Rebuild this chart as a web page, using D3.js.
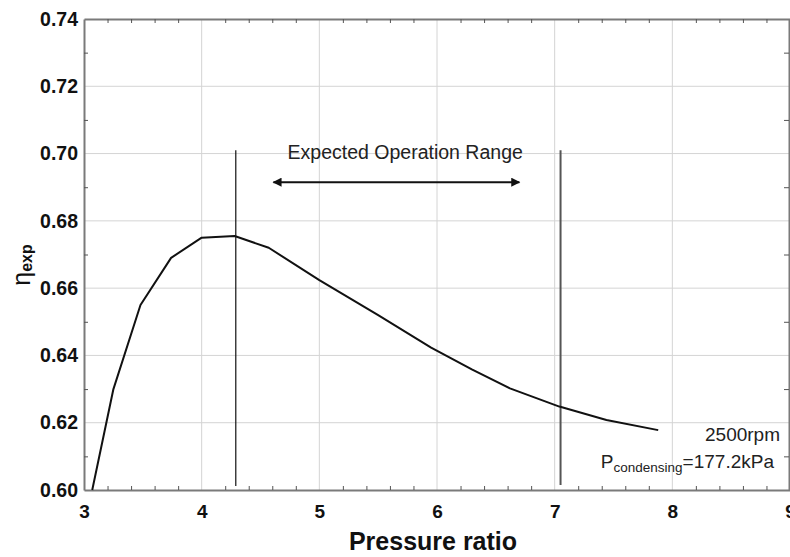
<!DOCTYPE html>
<html>
<head>
<meta charset="utf-8">
<script src="https://cdn.jsdelivr.net/npm/d3@7"></script>
<style>
  html, body { margin: 0; padding: 0; background: #fff; }
  svg { display: block; font-family: "Liberation Sans", Arial, sans-serif; }
</style>
</head>
<body>
<svg id="chart" width="790" height="557"></svg>
<script>
// ---- data ----
const pressureRatio = [3.07, 3.25, 3.48, 3.74, 4.0, 4.28, 4.57, 5.0, 5.5, 5.95, 6.3, 6.62, 7.04, 7.44, 7.88];
const efficiency    = [0.600, 0.630, 0.655, 0.669, 0.675, 0.6755, 0.672, 0.6624, 0.652, 0.6423, 0.6358, 0.6302, 0.6248, 0.6208, 0.6178];
const xTicks = [3, 4, 5, 6, 7, 8, 9];
const yTicks = [0.60, 0.62, 0.64, 0.66, 0.68, 0.70, 0.72, 0.74];
const rangeLines = [4.29, 7.05];          // expected operation range bounds
const rangeLineTop = 0.701;
const arrowSpan = [4.61, 6.70];
const arrowY = 0.6915;
const rangeLabel = "Expected Operation Range";
const rangeLabelPos = [5.73, 0.6984];
const speedLabel = "2500rpm";
const xTitle = "Pressure ratio";

// ---- layout ----
const svg = d3.select("#chart");
const L = 84, R = 790, T = 19, B = 490;
const x = d3.scaleLinear().domain([3, 9]).range([L, R]);
const y = d3.scaleLinear().domain([0.60, 0.74]).range([B, T]);

const xMinor = d3.range(3, 9.001, 0.2).map(v => +v.toFixed(2)).filter(v => !xTicks.includes(v));
const yMinor = d3.range(0.60, 0.7401, 0.01).map(v => +v.toFixed(2)).filter(v => !yTicks.some(t => Math.abs(t - v) < 1e-6));

// grid
svg.append("g").selectAll("line").data(xTicks.slice(1, -1)).join("line")
  .attr("x1", d => x(d)).attr("x2", d => x(d)).attr("y1", T).attr("y2", B)
  .attr("stroke", "#d4d4d4").attr("stroke-width", 1);
svg.append("g").selectAll("line").data(yTicks.slice(1, -1)).join("line")
  .attr("y1", d => y(d)).attr("y2", d => y(d)).attr("x1", L).attr("x2", R)
  .attr("stroke", "#d4d4d4").attr("stroke-width", 1);

// minor tick axes (inside)
function styleAxis(g) {
  g.select(".domain").attr("stroke", "#7a7a7a").attr("stroke-width", 2);
  g.selectAll(".tick line").attr("stroke", "#555").attr("stroke-width", 1);
}
svg.append("g").attr("transform", `translate(0,${B})`)
  .call(d3.axisBottom(x).tickValues(xMinor).tickSize(-4).tickFormat("").tickSizeOuter(0)).call(styleAxis);
svg.append("g").attr("transform", `translate(0,${T})`)
  .call(d3.axisTop(x).tickValues(xMinor).tickSize(-4).tickFormat("").tickSizeOuter(0)).call(styleAxis);
svg.append("g").attr("transform", `translate(${L},0)`)
  .call(d3.axisLeft(y).tickValues(yMinor).tickSize(-4).tickFormat("").tickSizeOuter(0)).call(styleAxis);
svg.append("g").attr("transform", `translate(${R - 1},0)`)
  .call(d3.axisRight(y).tickValues(yMinor).tickSize(-5).tickFormat("").tickSizeOuter(0)).call(styleAxis);

// major labels
const gx = svg.append("g").attr("transform", `translate(0,${B})`)
  .call(d3.axisBottom(x).tickValues(xTicks).tickSize(0).tickPadding(15).tickFormat(d3.format("d")));
gx.select(".domain").remove();
gx.selectAll("text").attr("font-size", 19).attr("font-weight", "bold").attr("fill", "#111")
  .attr("font-family", "Liberation Sans, Arial, sans-serif");

const gy = svg.append("g").attr("transform", `translate(${L},0)`)
  .call(d3.axisLeft(y).tickValues(yTicks).tickSize(0).tickPadding(6).tickFormat(d3.format(".2f")));
gy.select(".domain").remove();
gy.selectAll("text").attr("font-size", 19.5).attr("font-weight", "bold").attr("fill", "#111")
  .attr("font-family", "Liberation Sans, Arial, sans-serif");

// axis titles
svg.append("text").attr("x", 433).attr("y", 550).attr("text-anchor", "middle")
  .attr("font-size", 25).attr("font-weight", "bold").attr("fill", "#111").text(xTitle);

const yt = svg.append("text").attr("transform", "translate(30,265) rotate(-90)")
  .attr("text-anchor", "middle").attr("fill", "#111");
yt.append("tspan").attr("font-size", 25).text("η");
yt.append("tspan").attr("font-size", 16).attr("font-weight", "bold").attr("dy", 2).text("exp");

// range lines
svg.append("line").attr("x1", x(rangeLines[0])).attr("x2", x(rangeLines[0]))
  .attr("y1", y(rangeLineTop)).attr("y2", y(0.6012)).attr("stroke", "#111").attr("stroke-width", 1.2);
svg.append("line").attr("x1", x(rangeLines[1])).attr("x2", x(rangeLines[1]))
  .attr("y1", y(rangeLineTop)).attr("y2", y(0.6015)).attr("stroke", "#555").attr("stroke-width", 2);

// arrow
const defs = svg.append("defs");
defs.append("marker").attr("id", "ah").attr("viewBox", "0 0 10 10").attr("refX", 9).attr("refY", 5)
  .attr("markerWidth", 7).attr("markerHeight", 4.5).attr("markerUnits", "strokeWidth").attr("orient", "auto-start-reverse")
  .append("path").attr("d", "M0,0 L10,5 L0,10 z").attr("fill", "#111");
svg.append("line").attr("x1", x(arrowSpan[0])).attr("x2", x(arrowSpan[1]))
  .attr("y1", y(arrowY)).attr("y2", y(arrowY)).attr("stroke", "#111").attr("stroke-width", 2)
  .attr("marker-start", "url(#ah)").attr("marker-end", "url(#ah)");

svg.append("text").attr("x", x(rangeLabelPos[0])).attr("y", y(rangeLabelPos[1]))
  .attr("text-anchor", "middle").attr("font-size", 19.5).attr("fill", "#222").text(rangeLabel);

// curve
svg.append("path").datum(pressureRatio.map((p, i) => [p, efficiency[i]]))
  .attr("d", d3.line().x(d => x(d[0])).y(d => y(d[1])))
  .attr("fill", "none").attr("stroke", "#111").attr("stroke-width", 2).attr("stroke-linejoin", "round");

// condition labels
svg.append("text").attr("x", 780).attr("y", 441).attr("text-anchor", "end")
  .attr("font-size", 19).attr("fill", "#222").text(speedLabel);
const pc = svg.append("text").attr("x", 774).attr("y", 468).attr("text-anchor", "end")
  .attr("font-size", 19).attr("fill", "#222");
pc.append("tspan").text("P");
pc.append("tspan").attr("font-size", 13.5).attr("dy", 4).text("condensing");
pc.append("tspan").attr("dy", -4).text("=177.2kPa");
</script>
</body>
</html>
